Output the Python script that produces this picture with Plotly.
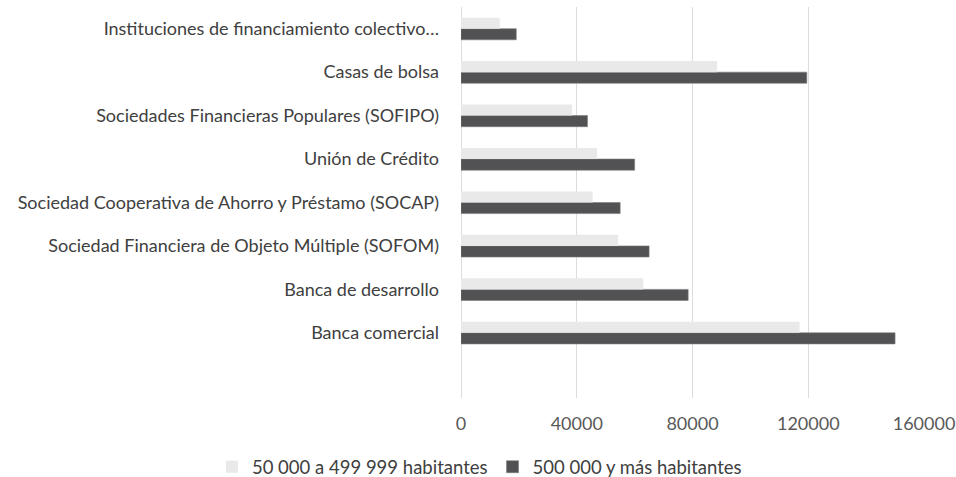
import plotly.graph_objects as go

categories = [
    "Banca comercial",
    "Banca de desarrollo",
    "Sociedad Financiera de Objeto Múltiple (SOFOM)",
    "Sociedad Cooperativa de Ahorro y Préstamo (SOCAP)",
    "Unión de Crédito",
    "Sociedades Financieras Populares (SOFIPO)",
    "Casas de bolsa",
    "Instituciones de financiamiento colectivo…",
]
series_small = [117000, 63000, 54300, 45500, 47000, 38400, 88500, 13400]
series_large = [150000, 78500, 65000, 55000, 60000, 43700, 119500, 19100]
name_small = "50 000 a 499 999 habitantes"
name_large = "500 000 y más habitantes"
x_ticks = [0, 40000, 80000, 120000, 160000]

FONT = "Lato"

fig = go.Figure()
fig.add_trace(go.Bar(
    y=categories, x=series_large, orientation="h", name=name_large,
    marker=dict(color="#525254", line=dict(color="#7a7a7c", width=0.6)),
    legendrank=2,
))
fig.add_trace(go.Bar(
    y=categories, x=series_small, orientation="h", name=name_small,
    marker=dict(color="#e8e9e8", line=dict(width=0)),
    legendrank=1,
))

fig.update_layout(
    width=956, height=477,
    margin=dict(l=461, r=32, t=7, b=79, autoexpand=False),
    paper_bgcolor="white", plot_bgcolor="white",
    barmode="group", bargap=0.49, bargroupgap=0,
    font=dict(family=FONT, size=18, color="#404040"),
    showlegend=True,
    legend=dict(
        orientation="h", xref="paper", yref="paper",
        x=-0.538, xanchor="left", y=-0.177, yanchor="middle",
        font=dict(family=FONT, size=18.5, color="#404040"),
        itemwidth=30, traceorder="normal",
    ),
    xaxis=dict(
        range=[0, 160000], tickvals=x_ticks, ticktext=[str(v) for v in x_ticks],
        showgrid=True, gridcolor="#dcdcdc", gridwidth=1,
        zeroline=True, zerolinecolor="#dcdcdc", zerolinewidth=1,
        showline=False, ticks="", ticklabelstandoff=13, automargin=False,
        tickfont=dict(family=FONT, size=18, color="#595959"),
    ),
    yaxis=dict(
        type="category", categoryorder="array", categoryarray=categories,
        range=[-1.5, 7.5], showgrid=False, zeroline=False, showline=False,
        ticks="", ticklabelstandoff=21, automargin=False,
        tickfont=dict(family=FONT, size=18, color="#404040"),
    ),
)

fig.write_html(
    "out.html",
    config={"displayModeBar": False},
    post_script="document.body.style.margin='0';document.body.style.overflow='hidden';",
)
